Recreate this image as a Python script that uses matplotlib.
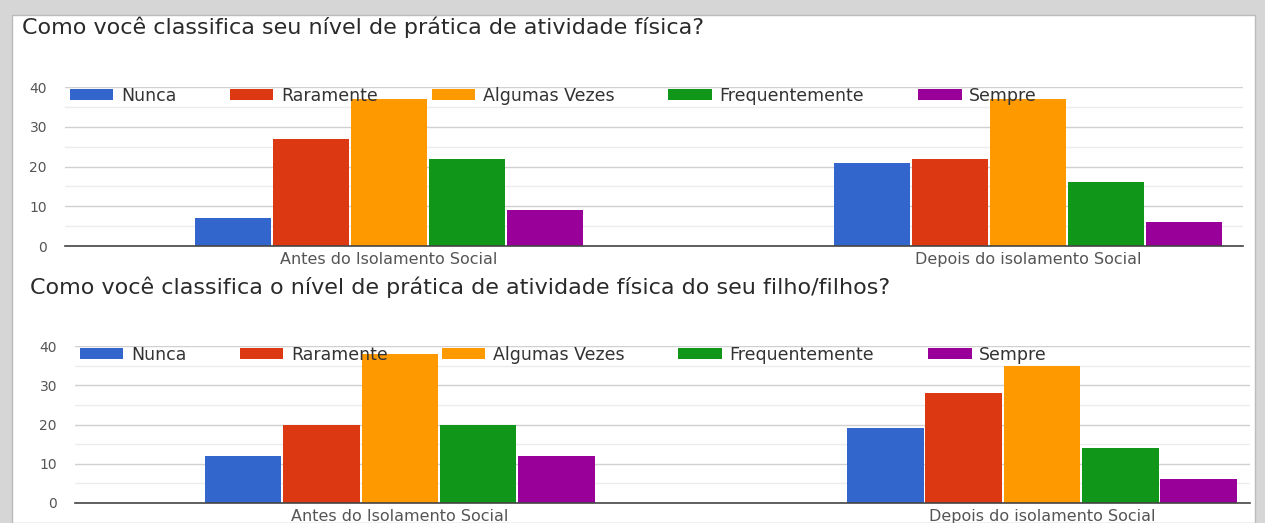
import matplotlib
matplotlib.use("Agg")
import matplotlib.pyplot as plt
from matplotlib.patches import Rectangle

categories = ["Antes do Isolamento Social", "Depois do isolamento Social"]
series = ["Nunca", "Raramente", "Algumas Vezes", "Frequentemente", "Sempre"]
colors = ["#3366cc", "#dc3912", "#ff9900", "#109618", "#990099"]

# respostas sobre o proprio nivel
own_values = [
    [7, 21],
    [27, 22],
    [37, 37],
    [22, 16],
    [9, 6],
]
# respostas sobre os filhos
kids_values = [
    [12, 19],
    [20, 28],
    [38, 35],
    [20, 14],
    [12, 6],
]

title_top = "Como você classifica seu nível de prática de atividade física?"
title_bottom = "Como você classifica o nível de prática de atividade física do seu filho/filhos?"

plt.rcParams["font.family"] = ["DejaVu Sans"]

W, H = 1265, 523
fig = plt.figure(figsize=(W / 100, H / 100), dpi=100, facecolor="#d6d6d6")
fig.patches.append(Rectangle((12 / W, 0), (1255 - 12) / W, 1 - 15 / H,
                             transform=fig.transFigure, facecolor="white",
                             edgecolor="#bbbbbb", lw=1.0, zorder=-5))


def draw(ax, values, xlim):
    n = len(series)
    bw = 0.122
    gap = 0.003
    for i, (name, vals) in enumerate(zip(series, values)):
        offs = (i - (n - 1) / 2) * bw
        ax.bar([c + offs for c in range(len(categories))], vals, width=bw - gap,
               color=colors[i], label=name, zorder=3)
    ax.set_xlim(*xlim)
    ax.set_ylim(0, 40)
    ax.set_yticks([0, 10, 20, 30, 40])
    ax.set_yticks([5, 15, 25, 35], minor=True)
    ax.set_xticks(range(len(categories)))
    ax.set_xticklabels(categories)
    ax.grid(axis="y", which="major", color="#d0d0d0", lw=1.0, zorder=0)
    ax.grid(axis="y", which="minor", color="#ececec", lw=1.0, zorder=0)
    for s in ["top", "right", "left"]:
        ax.spines[s].set_visible(False)
    ax.spines["bottom"].set_color("#444444")
    ax.spines["bottom"].set_linewidth(1.2)
    ax.spines["bottom"].set_zorder(4)
    ax.tick_params(axis="both", which="both", length=0, colors="#555555")
    ax.tick_params(axis="y", labelsize=10, pad=13)
    ax.tick_params(axis="x", labelsize=11.5, pad=4)
    ax.set_facecolor("none")
    leg = ax.legend(ncol=5, loc="upper left", bbox_to_anchor=(-0.002, 1.045),
                    frameon=False, fontsize=12.5, handlelength=2.5,
                    handleheight=0.62, handletextpad=0.45, columnspacing=3.1,
                    borderaxespad=0, labelcolor="#333333")
    leg.set_zorder(5)


ax1 = fig.add_axes([65 / W, 1 - 246 / H, (1243 - 65) / W, (246 - 87) / H])
draw(ax1, own_values, (-0.507, 1.336))
ax2 = fig.add_axes([75 / W, 1 - 503 / H, (1250 - 75) / W, (503 - 346) / H])
draw(ax2, kids_values, (-0.506, 1.324))

fig.text(22 / W, 1 - 27 / H, title_top, fontsize=16, color="#2a2a2a",
         va="center", ha="left")
fig.text(30 / W, 1 - 287 / H, title_bottom, fontsize=16, color="#2a2a2a",
         va="center", ha="left")

fig.savefig("out.png", dpi=100, facecolor=fig.get_facecolor())
